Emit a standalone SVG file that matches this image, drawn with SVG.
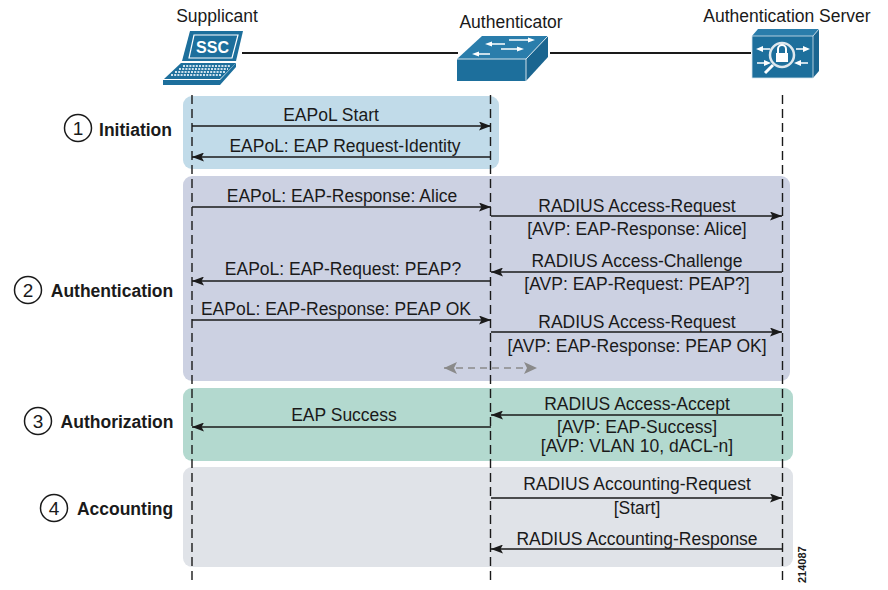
<svg xmlns="http://www.w3.org/2000/svg" width="888" height="590" viewBox="0 0 888 590">
<style>
text{font-family:"Liberation Sans",Arial,sans-serif;fill:#1a1a1a}
.l{font-size:17.500px;text-anchor:middle}
.s{font-size:17.500px;font-weight:bold;text-anchor:middle}
.n{font-size:17.500px;text-anchor:middle}
.q{font-size:19px;text-anchor:middle}
.m{stroke:#1a1a1a;stroke-width:1.300;fill:none}
.d{stroke:#1a1a1a;stroke-width:1.400;stroke-dasharray:9 5;fill:none}
.c{fill:#fff;stroke:#1a1a1a;stroke-width:1.500}
.b{fill:#1d6f9c}
.w{stroke:#fff;stroke-width:1.500;fill:none}
.t{fill:#fff}
</style>
<defs>
<marker id="a" viewBox="0 0 12 9" refX="12" refY="4.500" markerWidth="12" markerHeight="9" markerUnits="userSpaceOnUse" orient="auto-start-reverse"><path d="M0 0L12 4.500L0 9L2.500 4.500Z" fill="#1a1a1a"/></marker>
<marker id="g" viewBox="0 0 13 12" refX="13" refY="6" markerWidth="13" markerHeight="12" markerUnits="userSpaceOnUse" orient="auto-start-reverse"><path d="M0 0L13 6L0 12L3 6Z" fill="#8a8a8a"/></marker>
</defs>
<rect width="888" height="590" fill="#fff"/>
<g id="phases">
<rect x="183" y="96" width="316" height="73" rx="9" fill="#c1dbe9"/>
<rect x="183" y="176" width="607" height="205" rx="9" fill="#ccd1e2"/>
<rect x="183" y="388" width="610" height="73" rx="9" fill="#b3d9cf"/>
<rect x="183" y="467" width="610" height="100" rx="9" fill="#e0e3e8"/>
</g>
<g id="connectors">
<path d="M242 53H458M550 53H751" stroke="#1a1a1a" stroke-width="2" fill="none"/>
<path class="d" d="M192 95V582M490.500 95V582M782.500 95V582"/>
<path class="m" marker-end="url(#a)" d="M192 126H491"/>
<path class="m" marker-end="url(#a)" d="M491 157H192"/>
<path class="m" marker-end="url(#a)" d="M192 207H491"/>
<path class="m" marker-end="url(#a)" d="M491 216H782"/>
<path class="m" marker-end="url(#a)" d="M491 281H192"/>
<path class="m" marker-end="url(#a)" d="M782 272H491"/>
<path class="m" marker-end="url(#a)" d="M192 320H491"/>
<path class="m" marker-end="url(#a)" d="M491 332H782"/>
<path class="m" marker-end="url(#a)" d="M491 427H192"/>
<path class="m" marker-end="url(#a)" d="M782 415H491"/>
<path class="m" marker-end="url(#a)" d="M491 498H782"/>
<path class="m" marker-end="url(#a)" d="M782 549H491"/>
<path d="M444 368H537" stroke="#8a8a8a" stroke-width="1.400" stroke-dasharray="7 5" fill="none" marker-start="url(#g)" marker-end="url(#g)"/>
</g>
<g id="supplicant">
<text class="n" x="217" y="22">Supplicant</text>
<path class="b" d="M190 31H243L236 61H182Z"/>
<path d="M194 35H238L232 58H189Z" fill="none" stroke="#fff" stroke-width="1.200"/>
<text x="212.500" y="53" font-size="16" font-weight="bold" text-anchor="middle" style="fill:#fff">SSC</text>
<path d="M181 63H236L220 79H164Z" fill="#1d6f9c"/>
<path d="M183 66H231M179 69H228M175 72H225M171 75H222" stroke="#cfe2ee" stroke-width="1.800" stroke-dasharray="2 1.200" fill="none"/>
<path class="b" d="M236 63V67L220 85H163V80H220Z"/>
</g>
<g id="authenticator">
<text class="n" x="511" y="28">Authenticator</text>
<path class="b" d="M457 59H526V81H457Z"/>
<path d="M457 59L482 36H548L526 59Z" fill="#2a7dab"/>
<path fill="#1a6590" d="M526 59L548 36V57L526 81Z"/>
<path d="M457 59H526L548 36M526 59V81" fill="none" stroke="#fff" stroke-width=".8"/>
<path class="w" d="M490 44H505M509 40H531M501 49H520M476 54H490"/>
<path class="t" d="M485 44L492 41.500V46.500ZM535 40L528 37.500V42.500ZM524 49L517 46.500V51.500ZM472 54L479 51.500V56.500Z"/>
</g>
<g id="server">
<text class="n" x="787" y="22">Authentication Server</text>
<path class="b" d="M752 36H813V78H752Z"/>
<path fill="#2a7dab" d="M752 36L758 29H819L813 36Z"/>
<path fill="#1a6590" d="M813 36L819 29V71L813 78Z"/>
<path d="M752 36H813V78H752ZM813 36L819 29" fill="none" stroke="#d5e4ee" stroke-width=".8"/>
<path class="w" d="M761 49H770M796 49H805M757 63H766M799 63H808"/>
<path class="t" d="M756 49L763 46V52ZM810 49L803 46V52ZM771 63L764 60V66ZM794 63L801 60V66Z"/>
<circle cx="782" cy="55" r="12" fill="#1d6f9c" stroke="#dfe8ee" stroke-width="2.500"/>
<path d="M773 65L765 73" stroke="#fff" stroke-width="3"/>
<rect x="776" y="53" width="12" height="9" fill="#fff"/>
<path d="M778 53V49A4 4 0 0 1 786 49V53" fill="none" stroke="#fff" stroke-width="2"/>
</g>
<g id="labels">
<text class="l" x="331" y="120.500">EAPoL Start</text>
<text class="l" x="345" y="152">EAPoL: EAP Request-Identity</text>
<text class="l" x="342" y="202">EAPoL: EAP-Response: Alice</text>
<text class="l" x="637" y="212">RADIUS Access-Request</text>
<text class="l" x="637" y="235">[AVP: EAP-Response: Alice]</text>
<text class="l" x="343" y="275">EAPoL: EAP-Request: PEAP?</text>
<text class="l" x="637" y="267">RADIUS Access-Challenge</text>
<text class="l" x="637" y="290">[AVP: EAP-Request: PEAP?]</text>
<text class="l" x="336" y="315">EAPoL: EAP-Response: PEAP OK</text>
<text class="l" x="637" y="328">RADIUS Access-Request</text>
<text class="l" x="637" y="352">[AVP: EAP-Response: PEAP OK]</text>
<text class="l" x="344" y="421">EAP Success</text>
<text class="l" x="637" y="409.500">RADIUS Access-Accept</text>
<text class="l" x="637" y="433">[AVP: EAP-Success]</text>
<text class="l" x="637" y="452">[AVP: VLAN 10, dACL-n]</text>
<text class="l" x="637" y="490">RADIUS Accounting-Request</text>
<text class="l" x="637" y="514">[Start]</text>
<text class="l" x="637" y="544.500">RADIUS Accounting-Response</text>
<text x="806" y="583" font-size="11" font-weight="bold" transform="rotate(-90 806 583)">214087</text>
</g>
<g id="step1"><circle class="c" cx="78" cy="128" r="13.500"/><text class="q" x="78" y="135">1</text><text class="s" x="135.500" y="135.500">Initiation</text></g>
<g id="step2"><circle class="c" cx="28" cy="290" r="13.500"/><text class="q" x="28" y="297">2</text><text class="s" x="112" y="296.500">Authentication</text></g>
<g id="step3"><circle class="c" cx="38" cy="421" r="13.500"/><text class="q" x="38" y="428">3</text><text class="s" x="117" y="427.500">Authorization</text></g>
<g id="step4"><circle class="c" cx="54" cy="508" r="13.500"/><text class="q" x="54" y="515">4</text><text class="s" x="125" y="514.500">Accounting</text></g>
</svg>
